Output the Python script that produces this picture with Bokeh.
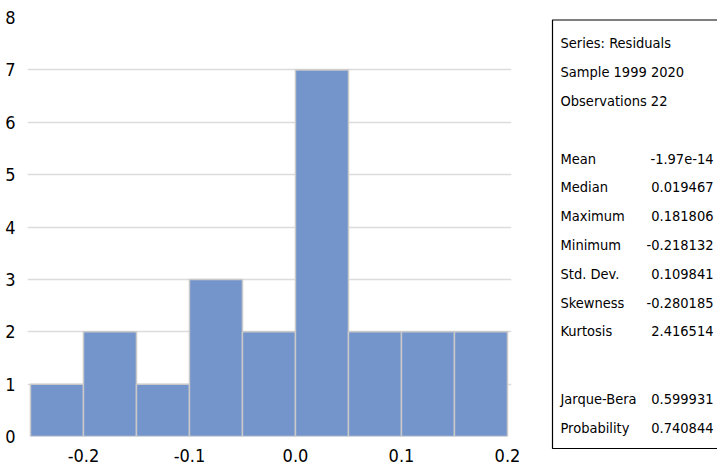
from bokeh.plotting import figure
from bokeh.layouts import row
from bokeh.models import Range1d, FixedTicker, ColumnDataSource
from bokeh.core.properties import value
from bokeh.embed import file_html
from bokeh.resources import INLINE

# ---- data ----
bin_edges = [-0.25, -0.20, -0.15, -0.10, -0.05, 0.00, 0.05, 0.10, 0.15, 0.20]
counts = [1, 2, 1, 3, 2, 7, 2, 2, 2]
x_ticks = [-0.2, -0.1, 0.0, 0.1, 0.2]
x_tick_labels = ["-0.2", "-0.1", "0.0", "0.1", "0.2"]
y_ticks = [0, 1, 2, 3, 4, 5, 6, 7, 8]

header_lines = ["Series: Residuals", "Sample 1999 2020", "Observations 22"]
stat_names = ["Mean", "Median", "Maximum", "Minimum", "Std. Dev.", "Skewness", "Kurtosis"]
stat_values = ["-1.97e-14", "0.019467", "0.181806", "-0.218132", "0.109841", "-0.280185", "2.416514"]
test_names = ["Jarque-Bera", "Probability"]
test_values = ["0.599931", "0.740844"]

FONT = "DejaVu Sans Condensed"
BAR = "#7495cb"

# ---- histogram ----
p = figure(width=538, height=466, output_backend="svg", toolbar_location=None,
           x_range=Range1d(-0.2528, 0.2038), y_range=Range1d(0, 8),
           min_border_left=27, min_border_right=27, min_border_top=17, min_border_bottom=30,
           frame_align=False)
p.outline_line_color = None
p.background_fill_color = "white"
p.border_fill_color = "white"

p.quad(left=bin_edges[:-1], right=bin_edges[1:], top=counts, bottom=0,
       fill_color=BAR, line_color="#c9c9c9", line_width=1.5)

p.xgrid.visible = False
p.ygrid.ticker = FixedTicker(ticks=y_ticks[1:-1])
p.ygrid.grid_line_color = "#dcdcdc"
p.ygrid.grid_line_width = 1.5
p.ygrid.level = "underlay"

p.xaxis.ticker = FixedTicker(ticks=x_ticks)
p.xaxis.major_label_overrides = {t: l for t, l in zip(x_ticks, x_tick_labels)}
p.yaxis.ticker = FixedTicker(ticks=y_ticks)
for ax in (p.xaxis[0], p.yaxis[0]):
    ax.axis_line_color = None
    ax.major_tick_line_color = None
    ax.minor_tick_line_color = None
    ax.major_label_text_font = FONT
    ax.major_label_text_font_size = "18px"
    ax.major_label_text_color = "#000000"
    ax.major_label_standoff = 6

# ---- statistics panel ----
W2, H2 = 179, 466
q = figure(width=W2, height=H2, output_backend="svg", toolbar_location=None,
           x_range=Range1d(0, W2), y_range=Range1d(H2, 0),
           min_border=0, min_border_left=0, min_border_right=0,
           min_border_top=0, min_border_bottom=0, frame_align=False)
q.axis.visible = False
q.grid.visible = False
q.outline_line_color = None

q.quad(left=14, right=W2 + 10, top=19.5, bottom=448,
       fill_color=None, line_color="black", line_width=1.2)

lx, rx = 22, 175
hdr_y = [42 + 29 * i for i in range(len(header_lines))]
st_y = [158 + 28.8 * i for i in range(len(stat_names))]
ts_y = [398 + 29 * i for i in range(len(test_names))]

left_src = ColumnDataSource(dict(x=[lx] * (len(header_lines) + len(stat_names) + len(test_names)),
                                 y=hdr_y + st_y + ts_y,
                                 t=header_lines + stat_names + test_names))
right_src = ColumnDataSource(dict(x=[rx] * (len(stat_values) + len(test_values)),
                                  y=st_y + ts_y,
                                  t=stat_values + test_values))
q.text(x="x", y="y", text="t", source=left_src, text_font=value(FONT),
       text_font_size="14.5px", text_align="left", text_baseline="alphabetic", text_color="#000000")
q.text(x="x", y="y", text="t", source=right_src, text_font=value(FONT),
       text_font_size="14.5px", text_align="right", text_baseline="alphabetic", text_color="#000000")

layout = row(p, q, spacing=0)
open("out.html", "w").write(file_html(layout, INLINE))
